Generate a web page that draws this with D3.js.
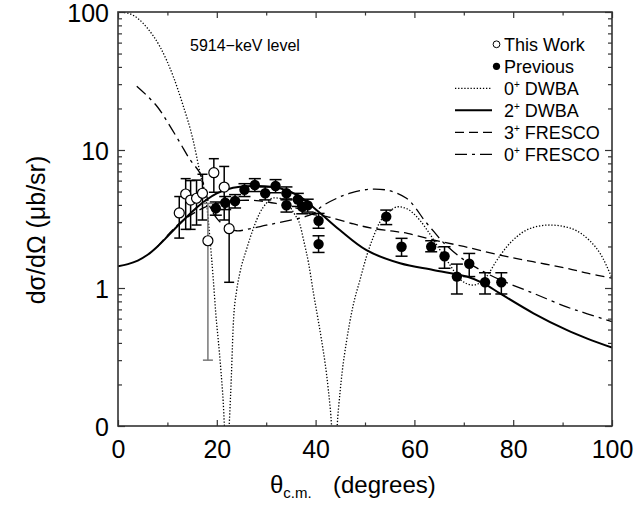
<!DOCTYPE html>
<html><head><meta charset="utf-8">
<script src="https://cdn.jsdelivr.net/npm/d3@7"></script>
<style>body{margin:0;background:#fff}svg{display:block}text{font-family:"Liberation Sans",Arial,sans-serif;fill:#000}</style>
</head><body><svg id="c" width="636" height="507"></svg>
<script>
// ---------- data ----------
const xTicks = [0,20,40,60,80,100];
const xTickLabels = ["0","20","40","60","80","100"];
const yTicks = [0.1,1,10,100];
const yTickLabels = ["0","1","10","100"];

// This Work (open circles)
const workX  = [12.4,13.7,14.7,15.9,17.1,18.2,19.4,21.5,22.5];
const workY  = [3.5,4.8,4.34,4.47,4.86,2.2,6.85,5.39,2.69];
const workLo = [2.3,2.66,2.66,2.86,3.11,0.30,4.94,3.11,1.1];
const workHi = [4.6,6.2,6.0,6.05,6.67,4.1,8.65,7.6,4.2];

// Previous (filled circles)
const prevX  = [19.8,21.7,23.7,25.6,27.7,29.8,31.9,34.1,34.1,36.4,37.3,38.4,40.6,40.6,54.3,57.4,63.4,66.1,68.6,71.1,74.3,77.6];
const prevY  = [3.78,4.15,4.27,5.15,5.58,4.86,5.48,4.86,3.98,4.38,3.88,3.97,3.07,2.08,3.29,1.99,1.99,1.70,1.21,1.50,1.10,1.10];
const prevLo = [3.37,3.7,3.8,4.6,5.0,4.35,4.9,4.35,3.55,3.9,3.45,3.55,2.71,1.81,2.88,1.70,1.83,1.39,0.905,1.21,0.905,0.905];
const prevHi = [4.2,4.6,4.75,5.7,6.2,5.4,6.1,5.4,4.42,4.85,4.3,4.4,3.47,2.39,3.67,2.29,2.2,1.99,1.49,1.78,1.29,1.29];

// 0+ DWBA (dotted)
const dwba0X = [0,2,4,6,8.5,11.2,13,15.2,16.6,18,18.6,19.3,19.8,20.5,21.2,22,22.8,23.4,24,24.7,26,27.4,28.7,30,31.5,33,34.5,35.8,36.8,37.6,38.6,39.5,40.4,41.2,42.2,43,43.8,44.6,45.4,46.3,47.5,49,50.3,51.7,53,55,56.7,58.5,61.1,63,65.2,67.3,69.2,71.9,74.6,76.5,78.7,80.7,82.7,85,87.4,90,92.8,95.5,97.6,100];
const dwba0Y = [100,98,90,76,56,34,22,11.8,6.8,3.9,2.3,1.14,0.65,0.35,0.17,0.06,0.17,0.6,0.95,1.3,1.9,2.7,3.5,4.1,4.5,4.45,4.0,3.4,2.9,2.2,1.5,0.95,0.62,0.42,0.24,0.13,0.06,0.13,0.25,0.42,0.72,1.15,1.69,2.35,3.0,3.6,3.88,3.75,3.1,2.5,1.88,1.45,1.16,1.05,1.21,1.55,1.99,2.35,2.63,2.8,2.86,2.8,2.6,2.2,1.78,1.18];

// 2+ DWBA (solid)
const dwba2X = [0,2,4,6,8,10,12,14,16,18,20,22,24.7,28,32.8,36.8,40.6,44.9,50.3,57.1,63.8,70.6,74,77.3,84.1,90.8,95,100];
const dwba2Y = [1.44,1.49,1.58,1.74,2.0,2.36,2.8,3.3,3.85,4.38,4.85,5.18,5.42,5.48,5.28,4.59,3.57,2.63,1.88,1.51,1.35,1.21,1.08,0.915,0.656,0.497,0.43,0.37];

// 3+ FRESCO (dashed)
const fr3X = [8,10,12,14,16,18,20,24,28,32,36,39,42.3,47.7,51.4,55.2,58.6,63.8,70,77.3,84,90.8,95,100];
const fr3Y = [2.0,2.4,2.85,3.25,3.6,3.9,4.1,4.3,4.3,4.1,3.8,3.45,3.29,2.91,2.71,2.59,2.49,2.23,2.0,1.73,1.55,1.39,1.28,1.18];

// 0+ FRESCO (dash-dot)
const fr0X = [3.8,6,8,10,12.6,14.5,16.6,17.6,18.6,20,22,24,27,30,34,38,40,41,44.3,47,51,55.1,58.4,60,62,64,66,70,74.6,78,84.1,90.8,95,100];
const fr0Y = [29,24.5,20.5,16,11.2,8.6,6.78,5.2,3.9,3.2,2.75,2.6,2.7,2.85,3.05,3.3,3.55,3.85,4.47,4.86,5.2,5.06,4.47,3.9,3.1,2.55,2.11,1.6,1.28,1.12,0.915,0.73,0.65,0.57];

const legendLabels = [["This Work",""],["Previous",""],["0","+"," DWBA"],["2","+"," DWBA"],["3","+"," FRESCO"],["0","+"," FRESCO"]];

// ---------- chart ----------
const svg = d3.select("#c");
const L = 118, R = 612, T = 12, B = 426;
const x = d3.scaleLinear().domain([0,100]).range([L,R]);
const y = d3.scaleLog().domain([0.1,100]).range([B,T]);

svg.append("defs").append("clipPath").attr("id","clip")
  .append("rect").attr("x",L).attr("y",T).attr("width",R-L).attr("height",B-T);

const axisColor = "#333";
const DOT = "1.3,1.8", DASH = "9,5", DASHDOT = "12,5,3,5";
const pts = (xs, ys) => xs.map((v,i)=>[v, ys[i]]);
const lineMono = d3.line().x(d=>x(d[0])).y(d=>y(d[1])).curve(d3.curveMonotoneX);
const lineSmooth = d3.line().x(d=>x(d[0])).y(d=>y(d[1])).curve(d3.curveCatmullRom.alpha(0.5));

const curves = svg.append("g").attr("clip-path","url(#clip)");
function drawCurve(xs, ys, width, dash, gen){
  curves.append("path").datum(pts(xs,ys)).attr("d",gen)
    .attr("fill","none").attr("stroke","#000").attr("stroke-width",width)
    .attr("stroke-dasharray",dash);
}
drawCurve(dwba0X,dwba0Y,1.3,DOT,lineMono);
drawCurve(fr3X,fr3Y,1.3,DASH,lineSmooth);
drawCurve(fr0X,fr0Y,1.3,DASHDOT,lineSmooth);
drawCurve(dwba2X,dwba2Y,2,null,lineSmooth);

// error bars
function errBars(xs, ys, lo, hi, cap, grayIdx){
  const g = svg.append("g").attr("clip-path","url(#clip)");
  xs.forEach((v,i)=>{
    const col = (grayIdx===i) ? "#777" : "#000";
    const cx = x(v), y1 = y(lo[i]), y2 = y(hi[i]);
    g.append("line").attr("x1",cx).attr("x2",cx).attr("y1",y1).attr("y2",y2).attr("stroke",col).attr("stroke-width",1.5);
    [y1,y2].forEach(yy=>g.append("line").attr("x1",cx-cap).attr("x2",cx+cap).attr("y1",yy).attr("y2",yy).attr("stroke",col).attr("stroke-width",1.5));
  });
}
errBars(prevX,prevY,prevLo,prevHi,6,-1);
errBars(workX,workY,workLo,workHi,5,5);

svg.append("g").selectAll("circle").data(pts(prevX,prevY)).join("circle")
  .attr("cx",d=>x(d[0])).attr("cy",d=>y(d[1])).attr("r",5.2).attr("fill","#000");
svg.append("g").selectAll("circle").data(pts(workX,workY)).join("circle")
  .attr("cx",d=>x(d[0])).attr("cy",d=>y(d[1])).attr("r",5).attr("fill","#fff").attr("stroke","#000").attr("stroke-width",1.2);

// axes (ticks inward)
const minorX = d3.range(10,100,20);
const minorY = [];
[0.1,1,10].forEach(d=>{for(let k=2;k<=9;k++) minorY.push(d*k);});

const gBottom = svg.append("g").attr("transform",`translate(0,${B})`)
  .call(d3.axisBottom(x).tickValues(xTicks).tickSize(-6).tickFormat((d,i)=>xTickLabels[i]).tickPadding(14));
const gBottomMinor = svg.append("g").attr("transform",`translate(0,${B})`)
  .call(d3.axisBottom(x).tickValues(minorX).tickSize(-3.5).tickFormat(""));
const gTop = svg.append("g").attr("transform",`translate(0,${T})`)
  .call(d3.axisTop(x).tickValues(xTicks).tickSize(-6).tickFormat(""));
const gTopMinor = svg.append("g").attr("transform",`translate(0,${T})`)
  .call(d3.axisTop(x).tickValues(minorX).tickSize(-3.5).tickFormat(""));
const gLeft = svg.append("g").attr("transform",`translate(${L},0)`)
  .call(d3.axisLeft(y).tickValues(yTicks).tickSize(-7).tickFormat((d,i)=>yTickLabels[i]).tickPadding(9));
const gLeftMinor = svg.append("g").attr("transform",`translate(${L},0)`)
  .call(d3.axisLeft(y).tickValues(minorY).tickSize(-4).tickFormat(""));
const gRight = svg.append("g").attr("transform",`translate(${R},0)`)
  .call(d3.axisRight(y).tickValues(yTicks).tickSize(-7).tickFormat(""));
const gRightMinor = svg.append("g").attr("transform",`translate(${R},0)`)
  .call(d3.axisRight(y).tickValues(minorY).tickSize(-4).tickFormat(""));

[gBottom,gBottomMinor,gTop,gTopMinor,gLeft,gLeftMinor,gRight,gRightMinor].forEach(g=>{
  g.select(".domain").remove();
  g.selectAll(".tick line").attr("stroke",axisColor).attr("stroke-width",1.2);
  g.selectAll(".tick text").attr("font-size",25).attr("font-family","Liberation Sans, Arial, sans-serif").attr("fill","#000");
});
gLeft.selectAll(".tick text").attr("dy","0.36em");

svg.append("rect").attr("x",L).attr("y",T).attr("width",R-L).attr("height",B-T)
  .attr("fill","none").attr("stroke",axisColor).attr("stroke-width",1.6);

// axis titles
const xt = svg.append("text").attr("x",270).attr("y",493).attr("font-size",24);
xt.append("tspan").text("θ");
xt.append("tspan").text("c.m.").attr("font-size",15).attr("dy",5);
xt.append("tspan").text("(degrees)").attr("x",333).attr("dy",-5);

svg.append("text").attr("transform","translate(45,230) rotate(-90)").attr("text-anchor","middle")
  .attr("font-size",25).text("dσ/dΩ (μb/sr)");

// annotation
svg.append("text").attr("x",190).attr("y",51).attr("font-size",16).text("5914−keV level");

// legend
const lg = svg.append("g");
const rowY = [44.3,66.3,88.3,110.3,132.3,154.3];
const styles = [null,null,[DOT,1.3],[null,2],[DASH,1.3],[DASHDOT,1.3]];
legendLabels.forEach((lab,i)=>{
  const yy = rowY[i];
  if(i===0) lg.append("circle").attr("cx",496.5).attr("cy",yy).attr("r",3.4).attr("fill","#fff").attr("stroke","#000").attr("stroke-width",1);
  else if(i===1) lg.append("circle").attr("cx",496.5).attr("cy",yy).attr("r",3.6).attr("fill","#000");
  else lg.append("line").attr("x1",455).attr("x2",492).attr("y1",yy).attr("y2",yy)
      .attr("stroke","#000").attr("stroke-width",styles[i][1]).attr("stroke-dasharray",styles[i][0]);
  const t = lg.append("text").attr("x",504).attr("y",yy+6.3).attr("font-size",18);
  if(lab.length===2) t.text(lab[0]);
  else {
    t.append("tspan").text(lab[0]);
    t.append("tspan").text(lab[1]).attr("font-size",10).attr("dy",-7);
    t.append("tspan").text(lab[2]).attr("dy",7);
  }
});
</script></body></html>
